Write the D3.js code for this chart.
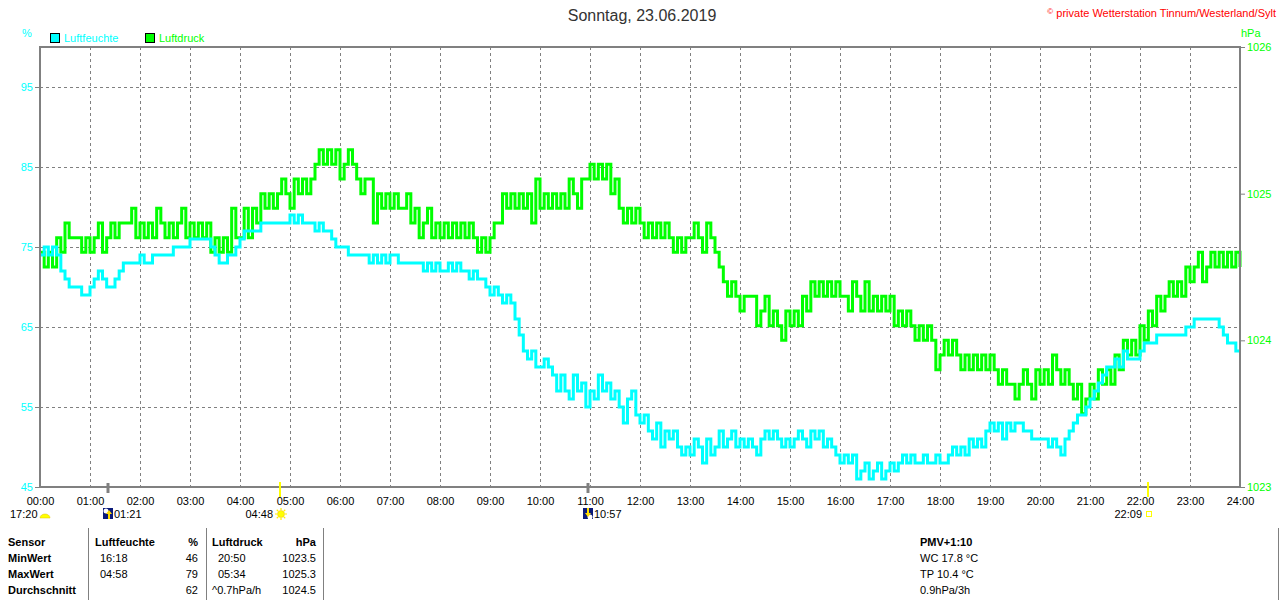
<!DOCTYPE html>
<html><head><meta charset="utf-8">
<script src="https://cdn.jsdelivr.net/npm/d3@7/dist/d3.min.js"></script>
<style>
html,body{margin:0;padding:0;background:#fff;}
svg{display:block;font-family:"Liberation Sans",Arial,sans-serif;}
</style></head>
<body>
<svg id="c" width="1280" height="600"></svg>
<script>
// ---- data ----
const title = "Sonntag, 23.06.2019";
const copyright = "private Wetterstation Tinnum/Westerland/Sylt";
const stepMinutes = 5;
const hourLabels = d3.range(0, 25).map(h => String(h).padStart(2, "0") + ":00");
const humTicks = [45, 55, 65, 75, 85, 95];
const presTicks = [1023, 1024, 1025, 1026];
const seriesNames = ["Luftfeuchte", "Luftdruck"];

const pressure = [
1024.6,1024.5,1024.6,1024.5,1024.7,1024.6,1024.8,1024.7,1024.7,1024.7,
1024.6,1024.7,1024.6,1024.7,1024.8,1024.6,1024.7,1024.8,1024.7,1024.8,
1024.8,1024.8,1024.9,1024.7,1024.8,1024.7,1024.8,1024.7,1024.9,1024.8,
1024.7,1024.8,1024.7,1024.8,1024.9,1024.7,1024.8,1024.7,1024.8,1024.7,
1024.8,1024.6,1024.7,1024.6,1024.7,1024.6,1024.9,1024.7,1024.7,1024.9,
1024.7,1024.9,1024.8,1025.0,1024.9,1025.0,1024.9,1025.0,1025.1,1025.0,
1024.9,1025.1,1025.0,1025.1,1025.0,1025.1,1025.2,1025.3,1025.2,1025.3,
1025.2,1025.3,1025.1,1025.2,1025.3,1025.2,1025.1,1025.0,1025.1,1025.1,
1024.8,1025.0,1024.9,1025.0,1024.9,1025.0,1024.9,1024.9,1025.0,1024.8,
1024.9,1024.7,1024.8,1024.9,1024.7,1024.8,1024.7,1024.8,1024.7,1024.8,
1024.7,1024.8,1024.7,1024.8,1024.7,1024.6,1024.7,1024.6,1024.7,1024.8,
1024.8,1025.0,1024.9,1025.0,1024.9,1025.0,1024.9,1025.0,1024.8,1025.1,
1024.9,1025.0,1024.9,1025.0,1024.9,1025.0,1024.9,1025.1,1025.0,1024.9,
1025.1,1025.1,1025.2,1025.1,1025.2,1025.1,1025.2,1025.0,1025.1,1024.9,
1024.8,1024.9,1024.8,1024.9,1024.8,1024.7,1024.8,1024.7,1024.8,1024.7,
1024.8,1024.7,1024.6,1024.7,1024.6,1024.7,1024.7,1024.8,1024.7,1024.6,
1024.8,1024.7,1024.6,1024.5,1024.4,1024.3,1024.4,1024.3,1024.2,1024.3,
1024.3,1024.3,1024.1,1024.2,1024.3,1024.1,1024.2,1024.1,1024.0,1024.2,
1024.1,1024.2,1024.1,1024.3,1024.2,1024.4,1024.3,1024.4,1024.3,1024.4,
1024.3,1024.4,1024.3,1024.3,1024.2,1024.4,1024.3,1024.2,1024.4,1024.2,
1024.3,1024.2,1024.3,1024.2,1024.3,1024.1,1024.2,1024.1,1024.2,1024.1,
1024.0,1024.1,1024.0,1024.1,1024.0,1023.8,1023.9,1024.0,1023.9,1024.0,
1023.9,1023.8,1023.9,1023.8,1023.9,1023.8,1023.9,1023.8,1023.9,1023.8,
1023.7,1023.8,1023.7,1023.7,1023.6,1023.7,1023.8,1023.7,1023.6,1023.8,
1023.7,1023.8,1023.7,1023.9,1023.8,1023.7,1023.8,1023.7,1023.6,1023.7,
1023.5,1023.6,1023.7,1023.6,1023.8,1023.7,1023.8,1023.7,1023.9,1023.8,
1024.0,1023.9,1024.0,1023.9,1024.1,1024.0,1024.2,1024.1,1024.3,1024.2,
1024.3,1024.4,1024.3,1024.4,1024.3,1024.5,1024.4,1024.5,1024.6,1024.4,
1024.5,1024.6,1024.5,1024.6,1024.5,1024.6,1024.5,1024.6,1024.5
];

const humidity = [
74,75,74,75,74,72,71,70,70,70,
69,69,70,71,72,71,70,70,71,72,
73,73,73,73,74,73,73,74,74,74,
74,74,75,75,75,75,76,76,76,76,
76,75,74,73,73,74,74,75,76,77,
77,77,77,78,78,78,78,78,78,78,
79,78,79,78,78,78,77,78,77,77,
76,75,75,75,74,74,74,74,74,73,
74,73,74,73,74,74,73,73,73,73,
73,73,72,73,72,73,72,72,73,72,
73,72,72,71,72,71,71,70,69,70,
69,68,69,68,66,64,62,61,62,60,
60,61,60,59,57,59,57,56,59,57,
58,55,57,56,59,57,58,56,57,55,
53,56,57,54,53,54,52,51,53,50,
52,51,52,50,49,50,49,51,50,48,
51,49,50,52,50,51,52,50,51,50,
51,50,49,51,52,51,52,51,50,51,
50,51,52,51,50,52,51,52,50,51,
50,49,48,49,48,49,46,47,48,46,
47,48,46,47,48,47,48,49,48,49,
48,48,49,48,48,49,48,48,49,50,
49,50,49,51,50,51,50,52,53,52,
53,51,53,52,53,53,52,52,51,51,
51,51,50,51,50,49,51,52,53,54,
54,55,56,57,58,59,60,60,61,60,
62,61,61,61,62,63,63,63,64,64,
64,64,64,64,64,65,65,66,66,66,
66,66,66,65,64,63,63,62,62
];

// astronomical events: time, kind
const dayLength = "17:20";
const events = [
  {t: "01:21", kind: "moonrise"},
  {t: "04:48", kind: "sunrise"},
  {t: "10:57", kind: "moonset"},
  {t: "22:09", kind: "sunset"}
];

// statistics table
const tableHeader = ["Sensor", "Luftfeuchte", "%", "Luftdruck", "hPa"];
const rowNames = ["MinWert", "MaxWert", "Durchschnitt"];
const humTimes = ["16:18", "04:58", ""];
const humVals = ["46", "79", "62"];
const presTimes = ["20:50", "05:34", "^0.7hPa/h"];
const presVals = ["1023.5", "1025.3", "1024.5"];
const extraLines = ["PMV+1:10", "WC 17.8 °C", "TP 10.4 °C", "0.9hPa/3h"];

// ---- drawing ----
const CYAN = "#00ffff", GREEN = "#00ff00", GRID = "#808080";
const svg = d3.select("#c");
const L = 40, R = 1240, T = 47, B = 487;
const x = d3.scaleLinear().domain([0, 1440]).range([L, R]);
const yH = d3.scaleLinear().domain([45, 100]).range([B, T]);
const yP = d3.scaleLinear().domain([1023, 1026]).range([B, T]);
const toMin = s => { const [h, m] = s.split(":").map(Number); return h * 60 + m; };

// title & copyright
svg.append("text").attr("x", 642).attr("y", 21).attr("text-anchor", "middle")
  .attr("font-size", 16).attr("fill", "#333").text(title);
const cp = svg.append("text").attr("x", 1276).attr("y", 17).attr("text-anchor", "end")
  .attr("font-size", 11).attr("fill", "#ff0000");
cp.append("tspan").attr("font-size", 8).attr("dy", -3).text("©");
cp.append("tspan").attr("dy", 3).text(" " + copyright);

// unit labels
svg.append("text").attr("x", 22).attr("y", 37).attr("font-size", 11).attr("fill", CYAN).text("%");
svg.append("text").attr("x", 1241).attr("y", 37).attr("font-size", 11).attr("fill", GREEN).text("hPa");

// legend
const leg = [{n: seriesNames[0], c: CYAN, x: 50}, {n: seriesNames[1], c: GREEN, x: 145}];
leg.forEach(d => {
  svg.append("rect").attr("x", d.x + 0.5).attr("y", 33.5).attr("width", 9).attr("height", 9)
    .attr("fill", d.c).attr("stroke", "#000").attr("stroke-width", 1);
  svg.append("text").attr("x", d.x + 14).attr("y", 42).attr("font-size", 11).attr("fill", d.c).text(d.n);
});

// grid
const g = svg.append("g");
g.selectAll("line.v").data(d3.range(1, 24)).join("line")
  .attr("x1", h => Math.round(x(h * 60)) + 0.5).attr("x2", h => Math.round(x(h * 60)) + 0.5)
  .attr("y1", T).attr("y2", B)
  .attr("stroke", GRID).attr("stroke-dasharray", "3,3");
g.selectAll("line.h").data(humTicks.filter(v => v > 45)).join("line")
  .attr("x1", L).attr("x2", R)
  .attr("y1", v => yH(v) + 0.5).attr("y2", v => yH(v) + 0.5)
  .attr("stroke", GRID).attr("stroke-dasharray", "3,3");

// axes
const axL = d3.axisLeft(yH).tickValues(humTicks).tickSize(5).tickPadding(2);
const gl = svg.append("g").attr("transform", `translate(${L},0)`).call(axL);
gl.select(".domain").remove();
gl.selectAll("line").attr("stroke", GRID);
gl.selectAll("text").attr("fill", CYAN).attr("font-size", 11).attr("font-family", "Liberation Sans, Arial, sans-serif");

const axR = d3.axisRight(yP).tickValues(presTicks).tickFormat(d3.format("d")).tickSize(5).tickPadding(2);
const gr = svg.append("g").attr("transform", `translate(${R},0)`).call(axR);
gr.select(".domain").remove();
gr.selectAll("line").attr("stroke", GRID);
gr.selectAll("text").attr("fill", GREEN).attr("font-size", 11).attr("font-family", "Liberation Sans, Arial, sans-serif");

const axB = d3.axisBottom(x).tickValues(d3.range(0, 25).map(h => h * 60))
  .tickFormat((d, i) => hourLabels[i]).tickSize(0).tickPadding(10);
const gb = svg.append("g").attr("transform", `translate(0,${B})`).call(axB);
gb.select(".domain").remove();
gb.selectAll("text").attr("fill", "#000").attr("font-size", 11).attr("font-family", "Liberation Sans, Arial, sans-serif");

// series
const t = (d, i) => x(i * stepMinutes);
const lineP = d3.line().x(t).y(d => yP(d)).curve(d3.curveStepAfter);
const lineH = d3.line().x(t).y(d => yH(d)).curve(d3.curveStepAfter);
svg.append("path").datum(pressure).attr("d", lineP).attr("fill", "none")
  .attr("stroke", GREEN).attr("stroke-width", 3).attr("stroke-linejoin", "miter");
svg.append("path").datum(humidity).attr("d", lineH).attr("fill", "none")
  .attr("stroke", CYAN).attr("stroke-width", 3).attr("stroke-linejoin", "miter");

// frame
svg.append("rect").attr("x", L).attr("y", T).attr("width", R - L).attr("height", B - T)
  .attr("fill", "none").attr("stroke", GRID).attr("stroke-width", 2);

// events on axis
const yRow = 518;
svg.append("text").attr("x", 10).attr("y", yRow).attr("font-size", 11).text(dayLength);
// half sun icon for day length
svg.append("path").attr("d", "M40,518 A5,4 0 0 1 50,518 Z").attr("fill", "#ffff00").attr("stroke", "#e0c000").attr("stroke-width", 0.5);

events.forEach(e => {
  const px = Math.round(x(toMin(e.t)));
  const isSun = e.kind.startsWith("sun");
  svg.append("line").attr("x1", px).attr("x2", px)
    .attr("y1", isSun ? 482 : 483).attr("y2", isSun ? 497 : 493)
    .attr("stroke", isSun ? "#ffff00" : GRID).attr("stroke-width", isSun ? 2 : 3);
  if (e.kind === "moonrise" || e.kind === "moonset") {
    const ig = svg.append("g").attr("transform", `translate(${px - 5},${508})`);
    ig.append("rect").attr("width", 10).attr("height", 11).attr("fill", "#0a1a7a");
    if (e.kind === "moonrise") {
      ig.append("circle").attr("cx", 3).attr("cy", 3).attr("r", 2.5).attr("fill", "#fff");
      ig.append("path").attr("d", "M6,2 L9,6 L7,6 L7,11 L5,11 L5,6 L3,6 Z").attr("fill", "#ffdd00");
    } else {
      ig.append("circle").attr("cx", 7).attr("cy", 9).attr("r", 2.5).attr("fill", "#fff");
      ig.append("path").attr("d", "M4,0 L6,0 L6,5 L8,5 L5,9 L2,5 L4,5 Z").attr("fill", "#ffdd00");
    }
    svg.append("text").attr("x", px + 6).attr("y", yRow).attr("font-size", 11).text(e.t);
  } else if (e.kind === "sunrise") {
    const sg = svg.append("g").attr("transform", `translate(${px + 1},514)`);
    d3.range(8).forEach(k => {
      const a = k * Math.PI / 4;
      sg.append("line").attr("x1", Math.cos(a) * 4).attr("y1", Math.sin(a) * 4)
        .attr("x2", Math.cos(a) * 6).attr("y2", Math.sin(a) * 6)
        .attr("stroke", "#ffee00").attr("stroke-width", 1.2);
    });
    sg.append("circle").attr("r", 3.5).attr("fill", "#ffff00").attr("stroke", "#f0c000").attr("stroke-width", 0.5);
    svg.append("text").attr("x", px - 7).attr("y", yRow).attr("text-anchor", "end").attr("font-size", 11).text(e.t);
  } else {
    svg.append("rect").attr("x", px - 1.5).attr("y", 511.5).attr("width", 5).attr("height", 5)
      .attr("fill", "none").attr("stroke", "#ffff00").attr("stroke-width", 1);
    svg.append("text").attr("x", px - 6).attr("y", yRow).attr("text-anchor", "end").attr("font-size", 11).text(e.t);
  }
});

// table
const tb = svg.append("g").attr("font-size", 11).attr("fill", "#000");
[88, 206, 323, 1278].forEach(vx => {
  tb.append("line").attr("x1", vx + 0.5).attr("x2", vx + 0.5).attr("y1", 528).attr("y2", 600)
    .attr("stroke", GRID).attr("stroke-width", 1);
});
const rowY = [546, 562, 578, 594];
const hdrX = [{x: 8, a: "start"}, {x: 95, a: "start"}, {x: 198, a: "end"}, {x: 212, a: "start"}, {x: 316, a: "end"}];
tableHeader.forEach((h, i) => {
  tb.append("text").attr("x", hdrX[i].x).attr("y", rowY[0]).attr("text-anchor", hdrX[i].a)
    .attr("font-weight", "bold").text(h);
});
rowNames.forEach((r, i) => {
  const yy = rowY[i + 1];
  tb.append("text").attr("x", 8).attr("y", yy).attr("font-weight", "bold").text(r);
  tb.append("text").attr("x", 100).attr("y", yy).text(humTimes[i]);
  tb.append("text").attr("x", 198).attr("y", yy).attr("text-anchor", "end").text(humVals[i]);
  tb.append("text").attr("x", presTimes[i].startsWith("^") ? 212 : 218).attr("y", yy).text(presTimes[i]);
  tb.append("text").attr("x", 316).attr("y", yy).attr("text-anchor", "end").text(presVals[i]);
});
extraLines.forEach((s, i) => {
  tb.append("text").attr("x", 920).attr("y", rowY[i]).attr("font-weight", i === 0 ? "bold" : "normal").text(s);
});
</script>
</body></html>
